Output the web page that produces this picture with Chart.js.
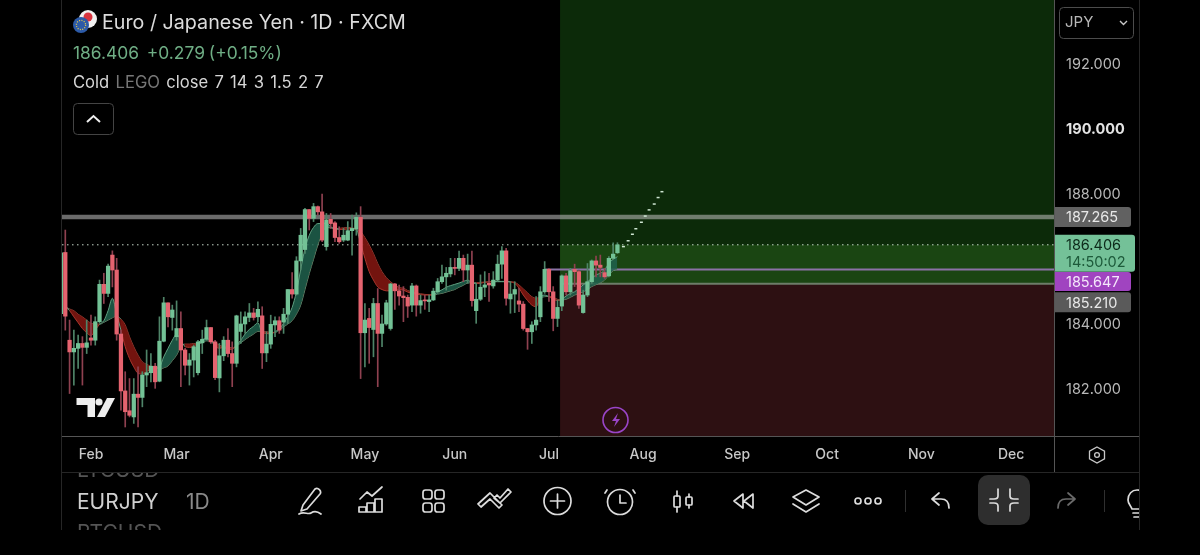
<!DOCTYPE html>
<html>
<head>
<meta charset="utf-8">
<title>EURJPY 1D</title>
<script src="https://cdn.jsdelivr.net/npm/chart.js@4"></script>
<style>
    html, body { margin: 0; padding: 0; background: #000; width: 1200px; height: 555px; overflow: hidden; }
    body { position: relative; font-family: Inter, "Noto Sans", sans-serif; color: #d6d6d6; }
    canvas { position: absolute; left: 0; top: 0; }
    .txt { position: absolute; white-space: nowrap; line-height: 1; }
    .clip { position: absolute; overflow: hidden; }
    svg { position: absolute; left: 0; top: 0; pointer-events: none; }
</style>
</head>
<body>
<canvas id="chart" width="1200" height="555"></canvas>

<div class="txt" style="left:102px;top:13px;font-size:19.7px;color:#dcdcdc">Euro / Japanese Yen · 1D · FXCM</div>
<div class="txt" style="left:73px;top:44px;font-size:17.4px;color:#6fae85;word-spacing:-1px">186.406&nbsp; +0.279 (+0.15%)</div>
<div class="txt" style="left:73px;top:74px;font-size:16.6px;color:#d6d6d6;word-spacing:1.6px">Cold <span style="color:#777">LEGO</span> close 7 14 3 1.5 2 7</div>
<div class="txt" style="left:1065px;top:14px;font-size:15px;color:#b8b8b8">JPY</div>
<div class="clip" style="left:77px;top:472px;width:120px;height:7px"><div class="txt" style="left:0;top:-13px;font-size:21px;color:#555">LTCUSD</div></div>
<div class="txt" style="left:77px;top:491px;font-size:21px;color:#d0d0d0">EURJPY</div>
<div class="txt" style="left:186px;top:491px;font-size:21px;color:#8a8a8a">1D</div>
<div class="clip" style="left:77px;top:522px;width:120px;height:8px"><div class="txt" style="left:0;top:0;font-size:21px;color:#555">BTCUSD</div></div>

<svg width="1200" height="555" viewBox="0 0 1200 555" fill="none">
    <defs><clipPath id="barClip"><rect x="0" y="473" width="1139" height="60"/></clipPath></defs>
    <!-- frame -->
    <path d="M61.5 0V530M1139.5 0V530M62 472.5H1139" stroke="#262626"/>
    <path d="M1054 436.5H1139M1054.5 436V472" stroke="#555"/>
    <!-- flag -->
    <circle cx="88" cy="19" r="9" fill="#f1f1f1"/><circle cx="88" cy="17" r="4.5" fill="#d8343f"/>
    <circle cx="81" cy="25" r="8" fill="#2c5aa8"/><circle cx="81" cy="25" r="4.6" stroke="#e6c94a" stroke-width="1.3" stroke-dasharray="1 1.4"/>
    <!-- legend toggle -->
    <rect x="73.5" y="103.5" width="40" height="31" rx="4" stroke="#444"/>
    <path d="M87 122l6.5-6 6.5 6" stroke="#eee" stroke-width="2"/>
    <!-- currency box -->
    <rect x="1059.5" y="7.5" width="74" height="31" rx="4" stroke="#4c4c4c"/>
    <path d="M1120 21l3.5 3.5 3.5-3.5" stroke="#c8c8c8" stroke-width="1.4"/>
    <!-- logo -->
    <path d="M76.5 398H95V417H87.5V405H76.5Z" fill="#eee"/><circle cx="99" cy="402" r="3.6" fill="#eee"/>
    <path d="M107 398H115L105 417H97Z" fill="#eee"/>
    <!-- bolt -->
    <circle cx="615.5" cy="420" r="12.5" stroke="#9a45c8" stroke-width="1.6"/>
    <path d="M618 413l-6 8h4l-2 6 6-8h-4z" fill="#9a45c8"/>
    <!-- settings hex -->
    <path d="M1097 447l7.5 4.2v7.6l-7.5 4.2-7.5-4.2v-7.6z" stroke="#c8c8c8" stroke-width="1.3"/><circle cx="1097" cy="455" r="2.4" stroke="#c8c8c8" stroke-width="1.3"/>
    <!-- toolbar -->
    <rect x="978" y="475" width="52" height="50" rx="10" fill="#2e2e2e"/>
    <g stroke="#dcdcdc" stroke-width="1.7" stroke-linecap="round" stroke-linejoin="round" clip-path="url(#barClip)">
        <path d="M303 505l-2 6 6-2 13-15c2-3-2-7-5-5zM299 514c5-3 9 1 12-1 3-2 6-2 10 1"/>
        <path d="M360 499l7-7 5 4 10-9M359 512v-5h7v5zM367 512v-9h7v9zM375 512v-13h7v13zM359 512h23"/>
        <rect x="423" y="490" width="9" height="9" rx="2.5"/><rect x="435" y="490" width="9" height="9" rx="2.5"/>
        <rect x="423" y="503" width="9" height="9" rx="2.5"/><rect x="435" y="503" width="9" height="9" rx="2.5"/>
        <path d="M481 507l9-8 9 9 3-3-12-12-12 11zM494 498l6 5 11-11-3-3-8 9-3-3z"/>
        <circle cx="557.5" cy="501" r="13.5"/><path d="M557.5 494v14M550.5 501h14"/>
        <circle cx="620" cy="502" r="12.5"/><path d="M620 495v8h6M607 490l-2 3M633 490l2 3"/>
        <path d="M677 491v5M677 507v5M689 494v3M689 505v3"/><rect x="674" y="496" width="6" height="11" rx="1"/><rect x="686" y="497" width="6" height="8" rx="1"/>
        <path d="M743 494l-9 7 9 7zM753 494l-9 7 9 7z"/>
        <path d="M806 490l13 7-13 8-13-8zM793 504l13 8 13-8"/>
        <circle cx="858" cy="501" r="3"/><circle cx="868" cy="501" r="3"/><circle cx="878" cy="501" r="3"/>
        <path d="M939 493l-7 6 7 6M932 499h9c5 0 8 3 8 9"/>
        <path d="M998 490v7c0 2-2 3-4 3h-4M1010 490v7c0 2 2 3 4 3h4M998 512v-5c0-2-2-3-4-3h-4M1010 512v-5c0-2 2-3 4-3h4" transform="translate(0 -1)"/>
        <path d="M1068 493l7 6-7 6M1075 499h-9c-5 0-8 3-8 9" stroke="#6a6a6a"/>
        <path d="M1128 500c0-6 4-10 9-10s9 4 9 10c0 4-3 6-4 9h-10c-1-3-4-5-4-9zM1133 513h8M1134 517h6"/>
    </g>
    <path d="M905.5 490V512M1104.5 490V512" stroke="#2f2f2f"/>
</svg>

<script>
// Bars run on weekdays, index 7 is Feb 3rd
const monthBars = [7, 27, 49, 71, 92, 114, 136, 158, 179, 201, 222];
const monthLabels = ['Feb', 'Mar', 'Apr', 'May', 'Jun', 'Jul', 'Aug', 'Sep', 'Oct', 'Nov', 'Dec'];
const priceTicks = [192, 190, 188, 184, 182];

const opens = [
    184.29, 186.17, 183.47, 183.11, 183.22, 183.37, 183.25, 183.54, 183.47, 184.04,
    185.19, 184.91, 186.09, 185.63, 183.66, 181.91, 181.30, 181.11, 181.81, 181.71,
    182.40, 182.47, 182.67, 182.21, 183.44, 184.62, 184.17, 183.58, 183.83, 183.17,
    182.70, 182.86, 182.47, 183.39, 183.50, 183.86, 183.42, 182.31, 182.99, 183.47,
    183.06, 182.76, 183.74, 183.97, 184.17, 184.31, 184.19, 184.22, 183.08, 183.35,
    183.94, 184.07, 184.03, 184.27, 185.03, 184.89, 185.91, 186.26, 187.49, 187.22,
    187.58, 187.42, 186.35, 187.19, 187.08, 186.63, 186.55, 186.55, 186.84, 186.89,
    187.25, 183.70, 184.14, 183.80, 184.60, 183.68, 183.97, 183.83, 185.20, 184.99,
    184.83, 184.79, 184.55, 185.14, 184.55, 184.71, 184.66, 184.71, 184.96, 185.27,
    185.42, 185.51, 185.71, 185.68, 185.99, 185.63, 185.78, 184.38, 184.73, 185.10,
    185.22, 185.14, 185.32, 185.81, 186.22, 184.74, 184.89, 184.68, 184.58, 183.83,
    183.73, 183.94, 184.19, 184.96, 185.65, 184.96, 184.14, 184.52, 185.45, 184.96,
    185.65, 185.58, 184.32, 184.86, 185.27, 185.91, 185.78, 185.55, 185.45, 185.99, 186.16
];
const highs = [
    186.16, 186.86, 184.09, 183.78, 183.63, 183.58, 184.09, 184.24, 184.19, 185.32,
    185.53, 185.81, 186.22, 185.99, 183.78, 182.50, 182.29, 182.29, 182.65, 182.50,
    183.17, 183.06, 182.76, 184.19, 184.79, 184.62, 184.55, 184.68, 184.34, 183.22,
    183.06, 183.32, 183.47, 183.78, 184.09, 183.86, 183.47, 183.37, 183.58, 183.83,
    183.42, 184.24, 184.34, 184.34, 184.60, 184.45, 184.65, 184.50, 183.73, 184.24,
    184.19, 184.19, 184.45, 185.03, 185.55, 186.04, 186.91, 187.53, 187.49, 187.68,
    187.60, 187.97, 187.37, 187.37, 187.12, 186.96, 186.91, 187.12, 187.32, 187.39,
    187.58, 184.60, 184.45, 184.76, 185.06, 184.24, 184.70, 185.22, 185.22, 185.17,
    185.12, 184.86, 185.22, 185.17, 184.86, 184.86, 184.86, 185.07, 185.37, 185.78,
    185.71, 185.99, 185.99, 186.21, 186.09, 186.12, 186.21, 185.22, 185.48, 185.58,
    185.53, 185.58, 186.09, 186.35, 186.30, 185.27, 185.27, 185.07, 184.66, 183.83,
    184.04, 184.81, 185.12, 185.89, 185.68, 185.12, 184.71, 185.48, 185.53, 185.68,
    185.81, 185.63, 185.01, 185.83, 185.94, 186.06, 186.09, 185.68, 186.04, 186.47, 186.47
];
const lows = [
    184.29, 183.78, 181.83, 182.09, 182.60, 182.09, 183.06, 183.32, 183.32, 183.99,
    184.60, 184.81, 185.11, 183.47, 181.32, 180.80, 181.11, 180.91, 180.80, 181.42,
    182.04, 182.19, 181.99, 182.19, 183.42, 183.88, 183.78, 183.47, 182.04, 182.40,
    182.09, 182.34, 182.40, 183.06, 183.47, 183.37, 182.26, 181.88, 182.84, 182.96,
    182.04, 182.65, 183.37, 183.68, 184.04, 184.09, 184.04, 182.60, 182.81, 183.22,
    183.58, 183.68, 183.68, 183.99, 184.76, 184.86, 185.63, 186.14, 186.86, 187.12,
    187.32, 186.50, 186.24, 186.91, 186.50, 186.45, 186.50, 186.53, 186.09, 186.70,
    182.29, 182.65, 182.76, 182.96, 182.04, 183.27, 183.93, 183.78, 184.42, 184.55,
    184.04, 184.17, 184.35, 184.21, 184.30, 184.42, 184.35, 184.69, 184.91, 185.22,
    185.01, 185.42, 185.48, 185.61, 185.27, 185.22, 184.52, 183.99, 184.69, 184.81,
    184.66, 185.07, 185.30, 185.37, 184.55, 184.30, 184.32, 184.35, 183.78, 183.19,
    183.37, 183.78, 184.04, 184.91, 184.66, 183.76, 183.89, 184.38, 184.86, 184.86,
    185.12, 184.45, 184.30, 184.81, 185.22, 185.42, 185.42, 185.37, 185.42, 185.96, 186.14
];
const closes = [
    186.16, 184.21, 183.11, 183.22, 183.37, 183.25, 183.39, 183.47, 184.04, 185.19,
    184.91, 185.75, 185.63, 183.66, 181.91, 181.27, 181.16, 181.81, 181.71, 182.40,
    182.47, 182.67, 182.19, 183.44, 184.62, 184.19, 184.40, 183.83, 183.17, 182.70,
    182.86, 183.27, 183.42, 183.50, 183.86, 183.42, 182.32, 182.99, 183.47, 183.06,
    182.76, 184.22, 183.97, 184.19, 184.31, 184.17, 184.42, 183.08, 183.35, 183.96,
    184.07, 183.78, 184.27, 185.03, 184.89, 185.91, 186.70, 187.49, 187.22, 187.58,
    187.42, 186.55, 187.17, 187.06, 186.63, 186.50, 186.70, 186.84, 186.91, 187.25,
    183.70, 184.09, 183.86, 184.60, 183.68, 183.97, 184.62, 185.20, 184.99, 184.83,
    184.78, 184.52, 185.14, 184.55, 184.69, 184.68, 184.71, 184.98, 185.27, 185.42,
    185.53, 185.71, 185.68, 185.99, 185.63, 185.78, 184.69, 184.73, 185.10, 185.17,
    185.17, 185.32, 185.81, 186.22, 184.76, 184.89, 185.03, 184.58, 183.83, 183.73,
    183.94, 184.09, 184.96, 185.65, 184.96, 184.14, 184.48, 185.45, 184.96, 185.61,
    185.58, 184.55, 184.86, 185.27, 185.91, 185.78, 185.71, 185.42, 185.99, 186.12, 186.406
];

// "Cold LEGO" ribbon, first bar has no value yet
const ribbonFast = [
    null, 184.50, 184.38, 184.19, 184.01, 183.83, 183.70, 183.61, 183.78, 183.96,
    184.07, 184.38, 184.76, 184.27, 183.78, 183.27, 182.91, 182.65, 182.45, 182.43,
    182.50, 182.58, 182.62, 182.65, 182.96, 183.22, 183.47, 183.65, 183.47, 183.27,
    183.25, 183.27, 183.39, 183.49, 183.52, 183.45, 183.29, 183.22, 183.25, 183.19,
    183.19, 183.32, 183.47, 183.66, 183.80, 183.90, 184.01, 183.70, 183.68, 183.66,
    183.73, 183.82, 183.99, 184.21, 184.48, 184.96, 185.65, 186.29, 186.70, 186.94,
    187.06, 187.06, 187.08, 186.96, 186.90, 186.88, 186.88, 186.89, 186.90, 186.88,
    186.45, 185.99, 185.58, 185.32, 185.11, 185.03, 184.99, 184.99, 185.01, 185.03,
    185.01, 184.95, 184.91, 184.89, 184.87, 184.86, 184.86, 184.87, 184.96, 185.02,
    185.10, 185.15, 185.19, 185.23, 185.28, 185.32, 185.24, 185.21, 185.22, 185.25,
    185.26, 185.27, 185.28, 185.28, 185.28, 185.26, 185.22, 185.07, 184.86, 184.69,
    184.55, 184.50, 184.79, 184.86, 184.81, 184.73, 184.69, 184.73, 184.83, 184.91,
    184.96, 185.07, 185.17, 185.27, 185.37, 185.48, 185.53, 185.63, 185.84, 185.96, 186.04
];
const ribbonSlow = [
    null, 184.50, 184.43, 184.38, 184.27, 184.19, 184.09, 183.99, 183.97, 183.96,
    184.02, 184.09, 184.16, 184.21, 184.12, 183.94, 183.58, 183.27, 183.01, 182.81,
    182.73, 182.67, 182.65, 182.57, 182.62, 182.68, 182.84, 183.01, 183.27, 183.35,
    183.35, 183.37, 183.35, 183.39, 183.45, 183.44, 183.39, 183.32, 183.27, 183.25,
    183.24, 183.29, 183.39, 183.49, 183.58, 183.66, 183.74, 183.73, 183.73, 183.71,
    183.71, 183.78, 183.88, 183.97, 184.07, 184.27, 184.55, 185.03, 185.52, 185.96,
    186.40, 186.76, 186.94, 186.93, 186.90, 186.91, 186.93, 186.94, 186.93, 186.88,
    186.81, 186.63, 186.40, 186.14, 185.83, 185.58, 185.40, 185.27, 185.17, 185.09,
    185.07, 185.00, 184.96, 184.93, 184.90, 184.88, 184.87, 184.86, 184.89, 184.91,
    184.95, 184.99, 185.03, 185.10, 185.16, 185.23, 185.24, 185.24, 185.25, 185.26,
    185.27, 185.27, 185.27, 185.27, 185.27, 185.27, 185.25, 185.17, 185.05, 184.93,
    184.81, 184.76, 184.79, 184.81, 184.82, 184.79, 184.73, 184.71, 184.73, 184.79,
    184.86, 184.91, 184.96, 185.03, 185.12, 185.18, 185.24, 185.32, 185.48, 185.61, 185.65
];

// dashed projection after the last bar
const projectionBars = [131.4, 132.5, 133.5, 134.3, 135.6, 136.5, 137.4, 138.6, 139.5, 140.4];
const projectionPrices = [186.35, 186.53, 186.73, 186.90, 187.10, 187.29, 187.48, 187.66, 187.86, 188.04];

const lastPrice = 186.406;
const resistance = 187.265;
const purpleLevel = 185.647;
const entryPrice = 185.21;
const positionStartBar = 116.6;
const purpleStartBar = 113;

const tagPrices = [187.265, 186.406, 185.647, 185.21];
const tagLabels = ['187.265', '186.406', '185.647', '185.210'];

const xMin = 0.23, xMax = 232;
const UP = '#73c296', DOWN = '#e5636f';
const UP_WICK = '#4f8468', DOWN_WICK = '#8f4150';

const isUp = i => closes[i] >= opens[i];
const bars = opens.map((o, i) => i);

function levelLine(price, from, style) {
    return Object.assign({
        type: 'line', order: 5, pointRadius: 0, fill: false,
        data: [{ x: from, y: price }, { x: xMax, y: price }]
    }, style);
}

// position tool background, drawn below every dataset
const zonesPlugin = {
    id: 'zones',
    beforeDatasetsDraw(chart) {
        const { ctx, chartArea: a, scales: { x, y } } = chart;
        const left = x.getPixelForValue(positionStartBar);
        const entry = y.getPixelForValue(entryPrice);
        const last = y.getPixelForValue(lastPrice);
        ctx.save();
        ctx.fillStyle = '#0c2a09';
        ctx.fillRect(left, a.top, a.right - left, entry - a.top);
        ctx.fillStyle = '#1a4512';
        ctx.fillRect(left, last, a.right - left, entry - last);
        ctx.fillStyle = '#2d1012';
        ctx.fillRect(left, entry, a.right - left, a.bottom - entry);
        ctx.restore();
    }
};

// price tags on the right hand axis
const tagsPlugin = {
    id: 'tags',
    afterDraw(chart) {
        const { ctx, chartArea: a, scales: { y } } = chart;
        const boxes = [
            { bg: '#616161', fg: '#e8e8e8', h: 20, w: 76, dy: 0 },
            { bg: '#74c198', fg: '#0d2a1a', h: 37, w: 80, dy: 8.5 },
            { bg: '#a044c0', fg: '#f4e6fa', h: 19, w: 76, dy: 12 },
            { bg: '#5a5a5a', fg: '#e8e8e8', h: 20, w: 76, dy: 18.5 }
        ];
        ctx.save();
        ctx.textBaseline = 'middle';
        ctx.textAlign = 'left';
        tagPrices.forEach((p, i) => {
            const b = boxes[i];
            const cy = y.getPixelForValue(p) + b.dy;
            ctx.fillStyle = b.bg;
            ctx.beginPath();
            ctx.roundRect(a.right + 1, cy - b.h / 2, b.w, b.h, [0, 3, 3, 0]);
            ctx.fill();
            ctx.fillStyle = b.fg;
            ctx.font = '14.5px Inter, sans-serif';
            if (i === 1) {
                ctx.fillText(tagLabels[i], a.right + 12, cy - 7.5);
                ctx.fillStyle = '#1d5a3a';
                ctx.fillText('14:50:02', a.right + 12, cy + 9.5);
            } else {
                ctx.fillText(tagLabels[i], a.right + 12, cy + 1);
            }
        });
        ctx.restore();
    }
};

const isBoldTick = c => !!c.tick && c.tick.value === 190;

new Chart(document.getElementById('chart').getContext('2d'), {
    type: 'bar',
    plugins: [zonesPlugin, tagsPlugin],
    data: {
        datasets: [
            {
                type: 'line', order: 4, pointRadius: 0, borderWidth: 1, cubicInterpolationMode: 'monotone',
                data: ribbonFast.map((v, i) => ({ x: i, y: v })),
                fill: { target: '+1', above: 'rgba(32,98,78,0.85)', below: 'rgba(125,22,16,0.92)' },
                segment: { borderColor: c => ribbonFast[c.p0DataIndex] >= ribbonSlow[c.p0DataIndex] ? '#5f9f80' : '#a8352c' }
            },
            {
                type: 'line', order: 4, pointRadius: 0, borderWidth: 1, cubicInterpolationMode: 'monotone',
                data: ribbonSlow.map((v, i) => ({ x: i, y: v })),
                fill: false,
                segment: { borderColor: c => ribbonFast[c.p0DataIndex] >= ribbonSlow[c.p0DataIndex] ? '#5f9f80' : '#a8352c' }
            },
            {
                order: 3, grouped: false, barThickness: 1,
                data: bars.map(i => ({ x: i, y: [lows[i], highs[i]] })),
                backgroundColor: c => isUp(c.dataIndex) ? UP_WICK : DOWN_WICK
            },
            {
                order: 2, grouped: false, barThickness: 3.6, minBarLength: 1,
                data: bars.map(i => ({ x: i, y: [opens[i], closes[i]] })),
                backgroundColor: c => isUp(c.dataIndex) ? UP : DOWN
            },
            levelLine(resistance, xMin, { borderColor: 'rgba(190,190,190,0.56)', borderWidth: 4.5 }),
            levelLine(lastPrice, xMin, { borderColor: '#c5d8c8', borderWidth: 1, borderDash: [1.5, 3.5] }),
            levelLine(purpleLevel, purpleStartBar, { borderColor: '#8b72a6', borderWidth: 2 }),
            levelLine(entryPrice, positionStartBar, { borderColor: '#6d7d69', borderWidth: 2 }),
            {
                type: 'scatter', order: 1,
                data: projectionBars.map((b, i) => ({ x: b, y: projectionPrices[i] })),
                pointStyle: 'line', pointRadius: 1.5, borderColor: '#cfe6d2', borderWidth: 1.5,
                backgroundColor: '#cfe6d2'
            }
        ]
    },
    options: {
        responsive: false,
        animation: false,
        layout: { autoPadding: false, padding: { left: 62, right: 61, top: 0, bottom: 83 } },
        plugins: { legend: { display: false }, tooltip: { enabled: false } },
        scales: {
            x: {
                type: 'linear', min: xMin, max: xMax, offset: false,
                grid: { display: false, drawTicks: false },
                border: { display: true, color: '#555' },
                afterBuildTicks: s => { s.ticks = monthBars.map(v => ({ value: v })); },
                afterFit: s => { s.height = 36; s.paddingLeft = 0; s.paddingRight = 0; },
                ticks: {
                    autoSkip: false, maxRotation: 0, padding: 10, color: '#c8c8c8',
                    font: { family: 'Inter', size: 14, weight: '500' },
                    callback: v => monthLabels[monthBars.indexOf(v)]
                }
            },
            y: {
                position: 'right', min: 180.523, max: 193.938,
                grid: { display: false, drawTicks: false },
                border: { display: true, color: '#555' },
                afterBuildTicks: s => { s.ticks = priceTicks.map(v => ({ value: v })); },
                afterFit: s => { s.width = 85; s.paddingTop = 0; s.paddingBottom = 0; },
                ticks: {
                    align: 'center', padding: 12, labelOffset: 2,
                    color: c => isBoldTick(c) ? '#e4e4e4' : '#b8b8b8',
                    font: c => ({ family: 'Inter', size: 14.5, weight: isBoldTick(c) ? '700' : '400' }),
                    callback: v => v.toFixed(3)
                }
            }
        }
    }
});
</script>
</body>
</html>
